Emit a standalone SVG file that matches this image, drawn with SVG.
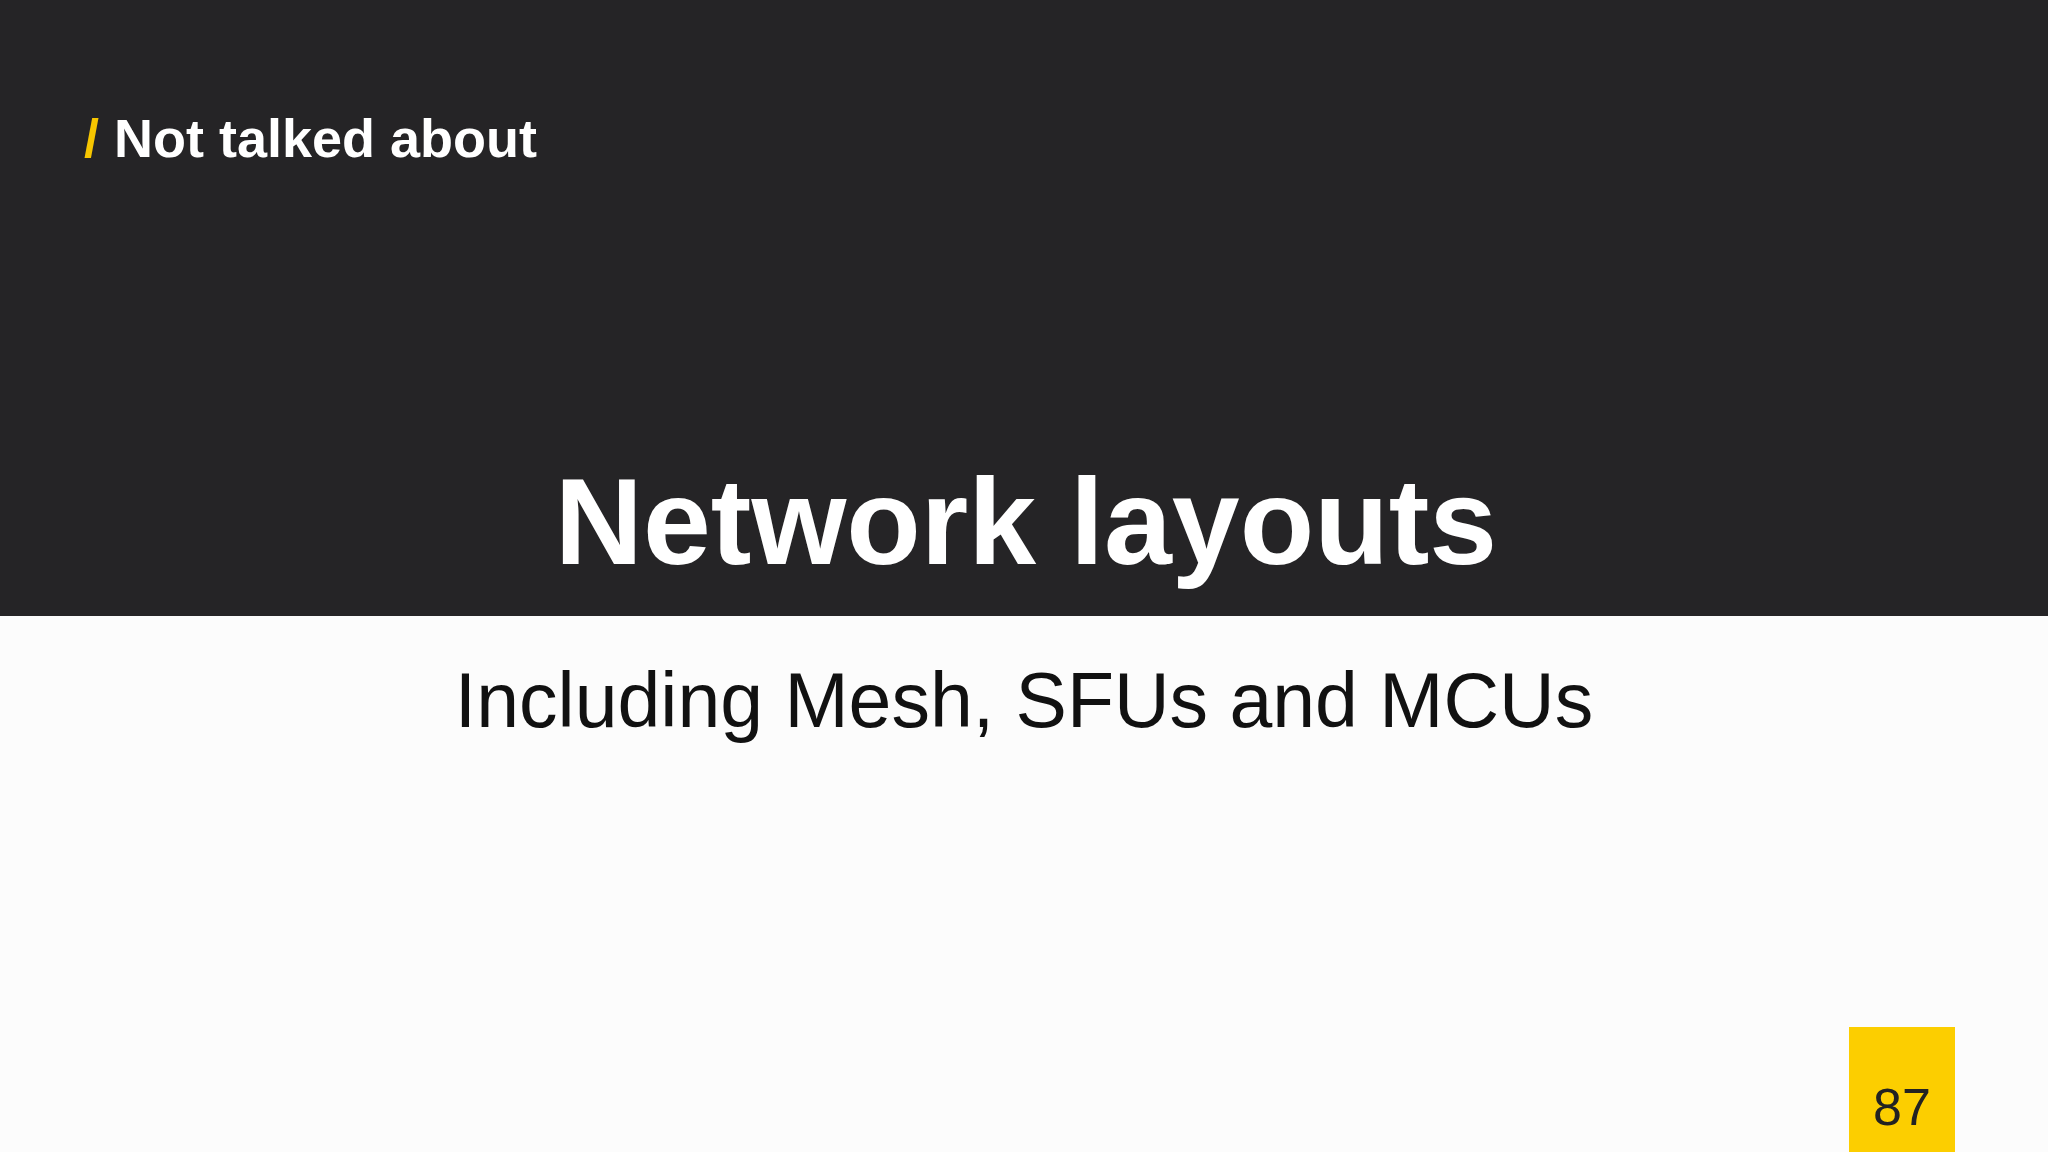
<svg xmlns="http://www.w3.org/2000/svg" width="2048" height="1152" viewBox="0 0 2048 1152">
<style>
text{font-family:"Liberation Sans",Arial,sans-serif}
.b{font-weight:bold;fill:#fff}
</style>
<rect width="2048" height="1152" fill="#fcfcfc"/>
<rect width="2048" height="616" fill="#252426"/>
<g id="header">
<text x="84" y="157" font-size="54" class="b"><tspan fill="#f7c600">/</tspan> Not talked about</text>
</g>
<g id="title">
<text x="1026" y="564" font-size="122" class="b" text-anchor="middle">Network layouts</text>
</g>
<g id="subtitle">
<text x="1024" y="727" font-size="77" fill="#111" text-anchor="middle">Including Mesh, SFUs and MCUs</text>
</g>
<g id="page">
<rect x="1849" y="1027" width="106" height="125" fill="#fcce00"/>
<text x="1902" y="1125" font-size="52" fill="#222" text-anchor="middle">87</text>
</g>
</svg>
